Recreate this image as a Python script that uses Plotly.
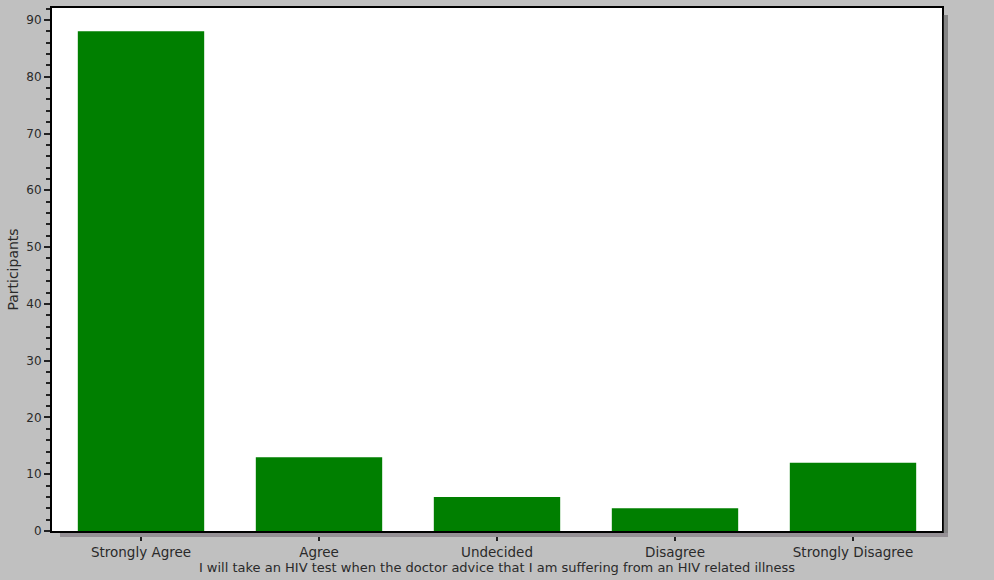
import plotly.graph_objects as go

categories = ["Strongly Agree", "Agree", "Undecided", "Disagree", "Strongly Disagree"]
participants = [88, 13, 6, 4, 12]
x_title = "I will take an HIV test when the doctor advice that I am suffering from an HIV related illness"
y_title = "Participants"

fig = go.Figure(go.Bar(
    x=categories, y=participants,
    marker=dict(color="#007f00", line=dict(width=0)),
    width=0.71,
))

W, H = 994, 580
L, R, T, B = 52, 52, 8, 49
pw, ph = W - L - R, H - T - B
sx = 6 / pw
sy = 6 / ph

FONT = "DejaVu Sans, Verdana, sans-serif"

fig.update_layout(
    width=W, height=H,
    margin=dict(l=L, r=R, t=T, b=B, autoexpand=False),
    paper_bgcolor="#c0c0c0",
    plot_bgcolor="white",
    font=dict(family=FONT, size=12, color="#2a2a2a"),
    showlegend=False,
    shapes=[
        dict(type="rect", xref="paper", yref="paper", x0=1.002, x1=1 + sx, y0=-sy, y1=1 - 7 / ph,
             fillcolor="#858585", line=dict(width=0)),
        dict(type="rect", xref="paper", yref="paper", x0=8 / pw, x1=1 + sx, y0=-sy, y1=-2 / ph,
             fillcolor="#959095", line=dict(width=0)),
    ],
)
fig.update_xaxes(
    range=[-0.5, 4.5], showline=True, linecolor="black", linewidth=2, mirror=True,
    ticks="outside", ticklen=8, tickcolor="#222", tickwidth=2,
    title=dict(text=x_title, standoff=2, font=dict(size=13)),
    showgrid=False, tickfont=dict(size=13.5),
)
fig.update_yaxes(
    range=[0, 92.1], dtick=10, showline=True, linecolor="black", linewidth=2, mirror=True,
    ticks="outside", ticklen=6, tickcolor="#222", tickwidth=1.5,
    minor=dict(dtick=2, ticks="outside", ticklen=4, tickcolor="#222", tickwidth=1.5),
    showgrid=False, zeroline=False,
    title=dict(text=y_title, standoff=4, font=dict(size=14)),
    tickfont=dict(size=12),
)

fig.write_html("out.html", config={"displayModeBar": False},
               post_script="document.body.style.margin='0';")
